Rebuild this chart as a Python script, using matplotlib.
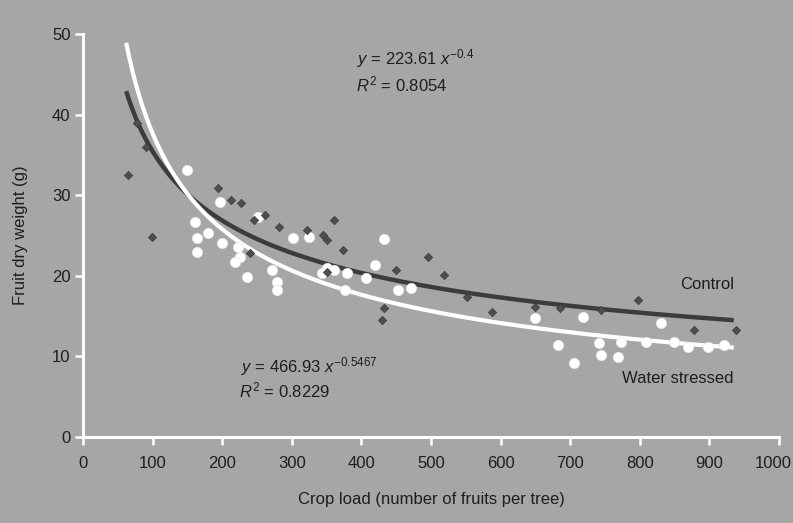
import numpy as np
import matplotlib
matplotlib.use("Agg")
import matplotlib.pyplot as plt
from matplotlib.transforms import ScaledTranslation

plt.rcParams['font.family'] = ['Liberation Sans', 'DejaVu Sans']
plt.rcParams['mathtext.fontset'] = 'custom'
plt.rcParams['mathtext.rm'] = 'Liberation Sans'
plt.rcParams['mathtext.it'] = 'Liberation Sans:italic'

# ---- data ----
control_x = [65, 99, 78, 90, 194, 212, 227, 245, 240, 262, 281, 322, 345, 351, 360, 374,
             350, 449, 495, 518, 552, 588, 432, 430, 650, 686, 744, 797, 878, 938]
control_y = [32.5, 24.8, 39.0, 36.0, 30.9, 29.4, 29.0, 26.9, 22.8, 27.5, 26.1, 25.7, 25.1, 24.4, 26.9, 23.2,
             20.5, 20.7, 22.3, 20.1, 17.4, 15.5, 16.0, 14.5, 16.1, 16.0, 15.8, 17.0, 13.3, 13.3]

water_x = [150, 197, 161, 180, 164, 200, 164, 222, 226, 219, 252, 235, 272, 279, 279, 302,
           324, 351, 380, 432, 420, 406, 360, 344, 452, 471, 377, 650, 718, 830, 741, 773,
           744, 768, 809, 705, 870, 898, 849, 921, 682]
water_y = [33.1, 29.2, 26.7, 25.3, 24.7, 24.1, 23.0, 23.6, 22.3, 21.7, 27.3, 19.9, 20.7, 19.2, 18.2, 24.7,
           24.8, 21.0, 20.3, 24.6, 21.3, 19.7, 20.7, 20.3, 18.2, 18.5, 18.2, 14.8, 14.9, 14.1, 11.7, 11.8,
           10.2, 9.9, 11.8, 9.2, 11.2, 11.2, 11.8, 11.4, 11.4]

control_fit = (223.61, -0.4, 0.8054)
water_fit = (466.93, -0.5467, 0.8229)
fit_range = (62, 935)

xticks = [0, 100, 200, 300, 400, 500, 600, 700, 800, 900, 1000]
yticks = [0, 10, 20, 30, 40, 50]

# ---- figure ----
bg = '#a6a6a6'
txt = '#1e1e1e'
fig = plt.figure(figsize=(7.93, 5.23), dpi=100, facecolor=bg)
ax = fig.add_axes([0.1047, 0.1644, 0.8776, 0.7706], facecolor=bg)

xs = np.linspace(fit_range[0], fit_range[1], 400)
ax.plot(xs, control_fit[0] * xs ** control_fit[1], color='#3c3c3c', lw=3.2, zorder=3,
        solid_capstyle='butt')
ax.plot(xs, water_fit[0] * xs ** water_fit[1], color='white', lw=3.0, zorder=3,
        solid_capstyle='butt')

ax.scatter(water_x, water_y, s=55, marker='o', color='white', edgecolors='#e8e8e8',
           linewidths=0.5, zorder=4)
ax.scatter(control_x, control_y, s=18, marker='D', color='#4e4e4e', edgecolors='#3a3a3a',
           linewidths=0.5, zorder=5)

ax.set_xlim(0, 1000)
ax.set_ylim(0, 50)
ax.set_xticks(xticks)
ax.set_yticks(yticks)
ax.tick_params(axis='both', colors='white', length=6, width=1.8, direction='out',
               labelcolor=txt, labelsize=12)
ax.tick_params(axis='x', pad=8)
ax.tick_params(axis='y', pad=3)
for s in ['top', 'right']:
    ax.spines[s].set_visible(False)
for s in ['left', 'bottom']:
    ax.spines[s].set_color('white')
    ax.spines[s].set_linewidth(2.2)

fig.canvas.draw()
last = ax.get_xticklabels()[-1]
last.set_transform(last.get_transform() + ScaledTranslation(-6 / 100, 0, fig.dpi_scale_trans))

ax.set_xlabel('Crop load (number of fruits per tree)', fontsize=12, color=txt, labelpad=15)
ax.set_ylabel('Fruit dry weight (g)', fontsize=12, color=txt, labelpad=17)

ax.text(478, 46.9, r'$y$ = %.2f $x^{%s}$' % (control_fit[0], '-0.4'),
        fontsize=12, color=txt, ha='center', va='center')
ax.text(458, 43.8, r'$R^2$ = %.4f' % control_fit[2], fontsize=12, color=txt,
        ha='center', va='center')
ax.text(325, 8.8, r'$y$ = %.2f $x^{%s}$' % (water_fit[0], '-0.5467'),
        fontsize=12, color=txt, ha='center', va='center')
ax.text(290, 5.8, r'$R^2$ = %.4f' % water_fit[2], fontsize=12, color=txt,
        ha='center', va='center')
ax.text(935, 18.9, 'Control', fontsize=12, color=txt, ha='right', va='center')
ax.text(935, 7.3, 'Water stressed', fontsize=12, color=txt, ha='right', va='center')

fig.savefig('out.png', dpi=100, facecolor=bg)
